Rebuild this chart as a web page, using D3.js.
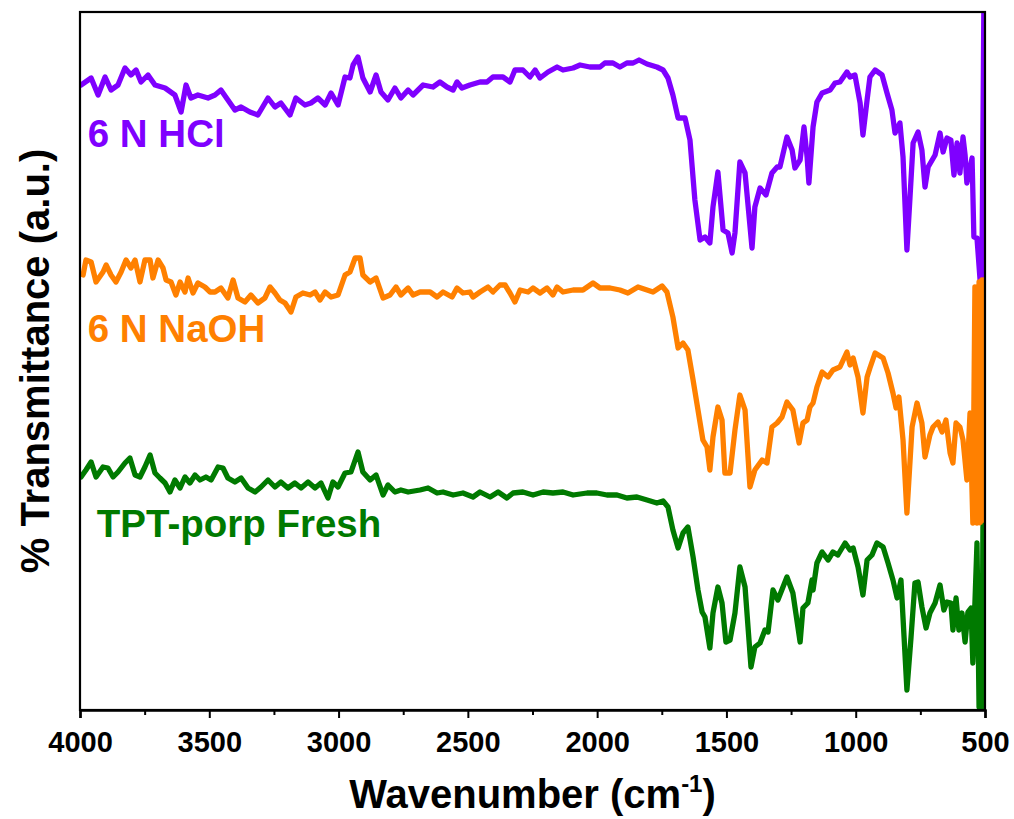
<!DOCTYPE html>
<html>
<head>
<meta charset="utf-8">
<script src="https://cdn.jsdelivr.net/npm/d3@7"></script>
<style>
  html, body { margin: 0; padding: 0; background: #fff; }
  svg { display: block; }
  text { font-family: "Liberation Sans", Arial, sans-serif; font-weight: bold; }
</style>
</head>
<body>
<svg id="chart" width="1014" height="819"></svg>
<script>
// ---------- DATA (wavenumber in cm-1, transmittance in a.u.) ----------
const xTicks = [4000, 3500, 3000, 2500, 2000, 1500, 1000, 500];
const xMinorTicks = [3750, 3250, 2750, 2250, 1750, 1250, 750];

const seriesNames = ["6 N HCl", "6 N NaOH", "TPT-porp Fresh"];
const seriesColors = ["#7f00ff", "#ff8000", "#007a00"];

const hclWave = [3996,3957,3930,3903,3880,3853,3826,3803,3783,3764,3737,3710,3671,3633,3609,3590,3571,3544,3505,3478,3455,3428,3401,3377,3343,3312,3273,3246,3223,3188,3165,3130,3107,3080,3052,3029,3002,2975,2956,2944,2925,2906,2878,2855,2836,2809,2782,2759,2731,2712,2673,2635,2608,2581,2557,2542,2523,2492,2453,2426,2403,2364,2337,2318,2287,2260,2240,2221,2190,2155,2132,2093,2066,2028,1989,1970,1939,1912,1885,1861,1838,1807,1769,1745,1726,1707,1687,1660,1641,1622,1602,1583,1564,1552,1533,1513,1494,1478,1467,1448,1428,1401,1390,1370,1347,1324,1304,1293,1266,1246,1235,1215,1200,1188,1181,1165,1150,1130,1099,1080,1061,1034,1022,1003,983,972,956,945,925,898,879,860,848,829,817,802,790,778,759,744,732,720,693,674,662,647,632,620,608,597,585,577,570,550,543,531,519,512,504,500];
const hclT = [625,632,615,633,620,625,642,635,640,628,635,625,622,615,598,625,612,615,612,615,620,610,600,603,598,595,612,603,607,595,612,605,607,612,605,617,605,633,632,645,653,632,618,635,618,610,622,612,620,615,625,623,628,623,620,628,622,625,628,628,633,633,628,640,640,633,640,632,638,643,640,642,645,643,643,647,647,643,647,647,650,646,643,640,632,615,592,592,570,510,470,473,467,503,538,480,477,457,477,548,537,462,503,522,515,537,543,543,573,560,542,550,583,553,527,583,608,617,620,627,628,638,633,635,607,575,610,633,640,635,617,600,577,587,553,460,513,567,578,560,523,543,555,577,558,572,570,535,567,537,573,555,527,552,473,472,430,430,720,720];

const naohWave = [3988,3977,3957,3938,3911,3899,3880,3861,3841,3822,3803,3787,3768,3749,3729,3718,3698,3679,3667,3648,3629,3613,3594,3582,3563,3544,3517,3497,3478,3455,3428,3408,3389,3362,3339,3312,3285,3265,3246,3227,3207,3184,3165,3138,3110,3091,3072,3052,3029,3002,2975,2956,2936,2917,2906,2878,2855,2828,2801,2778,2759,2731,2712,2685,2646,2619,2596,2561,2542,2519,2492,2480,2453,2422,2403,2376,2356,2337,2318,2298,2267,2248,2221,2194,2171,2155,2132,2093,2055,2016,1989,1950,1912,1881,1842,1807,1784,1749,1730,1707,1687,1668,1649,1629,1610,1591,1575,1564,1552,1533,1517,1506,1486,1467,1448,1428,1409,1390,1362,1343,1324,1304,1285,1266,1243,1219,1204,1188,1177,1165,1150,1130,1107,1088,1061,1034,1022,1010,991,972,956,945,925,894,875,856,844,833,817,802,782,763,744,732,713,701,682,666,651,635,624,612,597,585,570,558,547,539,531,523,516,512,508,504,500];
const naohT = [435,450,448,428,438,445,435,428,438,450,442,450,428,450,450,432,450,442,430,428,415,428,418,432,417,427,423,418,418,422,412,430,412,408,415,407,412,423,417,410,407,398,413,417,415,418,410,418,413,415,435,438,452,452,435,428,432,412,415,423,415,422,415,418,418,413,418,413,422,417,418,413,418,423,418,425,425,417,408,420,418,422,417,422,415,423,418,420,420,427,422,422,420,417,423,420,418,424,418,393,362,367,360,330,300,270,263,240,273,303,290,237,237,280,315,300,223,240,250,247,283,287,293,308,300,267,287,290,303,307,323,338,333,340,343,358,345,352,333,297,333,342,357,352,337,317,302,313,270,197,283,307,287,253,275,283,288,278,290,257,247,287,283,270,230,297,187,423,187,428,187,430,187,430,187];

const freshWave = [3996,3977,3957,3938,3911,3892,3872,3853,3826,3807,3787,3768,3749,3729,3710,3691,3671,3652,3633,3613,3594,3575,3555,3536,3513,3493,3466,3447,3428,3401,3377,3350,3323,3300,3273,3246,3223,3196,3169,3145,3118,3091,3068,3041,3022,3002,2975,2952,2925,2906,2878,2855,2828,2809,2782,2759,2731,2685,2654,2619,2596,2557,2519,2480,2453,2414,2383,2349,2325,2287,2248,2209,2171,2132,2093,2039,2001,1962,1923,1885,1846,1807,1769,1745,1726,1707,1687,1668,1649,1629,1610,1594,1583,1564,1552,1533,1517,1502,1486,1467,1448,1428,1405,1390,1370,1351,1339,1320,1301,1266,1243,1215,1204,1185,1169,1165,1150,1130,1107,1088,1069,1041,1022,1010,991,972,956,937,918,894,875,856,840,825,813,802,786,771,759,744,728,713,693,674,659,647,632,624,612,601,589,577,566,554,547,531,523,516,512,508,504,500];
const freshT = [233,240,248,233,243,242,233,238,247,252,235,233,243,255,237,232,227,218,230,222,233,227,235,230,233,230,243,242,232,228,232,222,218,223,230,223,228,222,227,222,228,222,227,212,228,223,237,238,258,238,230,235,215,225,218,220,218,220,222,217,218,215,217,213,218,213,218,212,217,218,215,218,217,218,215,217,217,215,215,212,213,210,207,209,203,180,162,177,183,153,120,98,93,62,97,123,107,68,70,97,143,123,43,63,67,80,78,120,110,133,117,68,102,107,130,120,147,158,150,158,155,167,160,162,143,115,150,155,167,163,147,130,112,130,73,20,73,127,128,103,82,97,107,125,100,108,107,80,112,80,97,68,98,102,47,167,3,130,-10,183,-10,185];

// ---------- LAYOUT ----------
const W = 1014, H = 819;
const margin = { left: 80, right: 29, top: 12, bottom: 109 };
const iw = W - margin.left - margin.right;
const ih = H - margin.top - margin.bottom;

const svg = d3.select("#chart");
const g = svg.append("g").attr("transform", `translate(${margin.left},${margin.top})`);

const x = d3.scaleLinear().domain([4000, 500]).range([0, iw]);
const y = d3.scaleLinear().domain([0, 698]).range([ih, 0]);

g.append("clipPath").attr("id", "clip")
  .append("rect").attr("x", 0).attr("y", 0).attr("width", iw).attr("height", ih);

const series = [
  { name: seriesNames[0], color: seriesColors[0], wave: hclWave, t: hclT, lx: 3970, ly: 563 },
  { name: seriesNames[1], color: seriesColors[1], wave: naohWave, t: naohT, lx: 3970, ly: 368 },
  { name: seriesNames[2], color: seriesColors[2], wave: freshWave, t: freshT, lx: 3935, ly: 173 }
];

const line = d3.line().x(d => x(d[0])).y(d => y(d[1]));

const plot = g.append("g").attr("clip-path", "url(#clip)");
series.forEach(s => {
  const pts = s.wave.map((w, i) => [w, s.t[i]]);
  plot.append("path")
    .datum(pts)
    .attr("d", line)
    .attr("fill", "none")
    .attr("stroke", s.color)
    .attr("stroke-width", 5.3)
    .attr("stroke-linejoin", "round")
    .attr("stroke-linecap", "round");
});

// series labels
series.forEach(s => {
  g.append("text")
    .attr("x", x(s.lx))
    .attr("y", y(s.ly))
    .attr("fill", s.color)
    .attr("font-size", 38.5)
    .text(s.name);
});

// frame
g.append("rect")
  .attr("x", 0).attr("y", 0).attr("width", iw).attr("height", ih)
  .attr("fill", "none").attr("stroke", "#000").attr("stroke-width", 2.2);

// bottom axis
const xAxis = d3.axisBottom(x).tickValues(xTicks).tickSize(8).tickPadding(13).tickFormat(d3.format("d"));
const ax = g.append("g").attr("transform", `translate(0,${ih})`).call(xAxis);
ax.select(".domain").attr("stroke-width", 2.5);
ax.selectAll(".tick line").attr("stroke-width", 2);
ax.selectAll(".tick text").attr("font-size", 29).attr("font-family", '"Liberation Sans", Arial, sans-serif').attr("font-weight", "bold").attr("fill", "#000");

const minorAxis = d3.axisBottom(x).tickValues(xMinorTicks).tickSize(5).tickFormat("");
const mx = g.append("g").attr("transform", `translate(0,${ih})`).call(minorAxis);
mx.select(".domain").remove();
mx.selectAll(".tick line").attr("stroke-width", 2);

// axis titles
const xt = svg.append("text")
  .attr("x", margin.left + iw / 2)
  .attr("y", 808)
  .attr("text-anchor", "middle")
  .attr("font-size", 40)
  .attr("fill", "#000");
xt.append("tspan").text("Wavenumber (cm");
xt.append("tspan").attr("font-size", 24).attr("dy", -16).text("-1");
xt.append("tspan").attr("dy", 16).text(")");

svg.append("text")
  .attr("transform", `translate(49,${margin.top + ih / 2}) rotate(-90)`)
  .attr("text-anchor", "middle")
  .attr("font-size", 40)
  .attr("fill", "#000")
  .text("% Transmittance (a.u.)");
</script>
</body>
</html>
